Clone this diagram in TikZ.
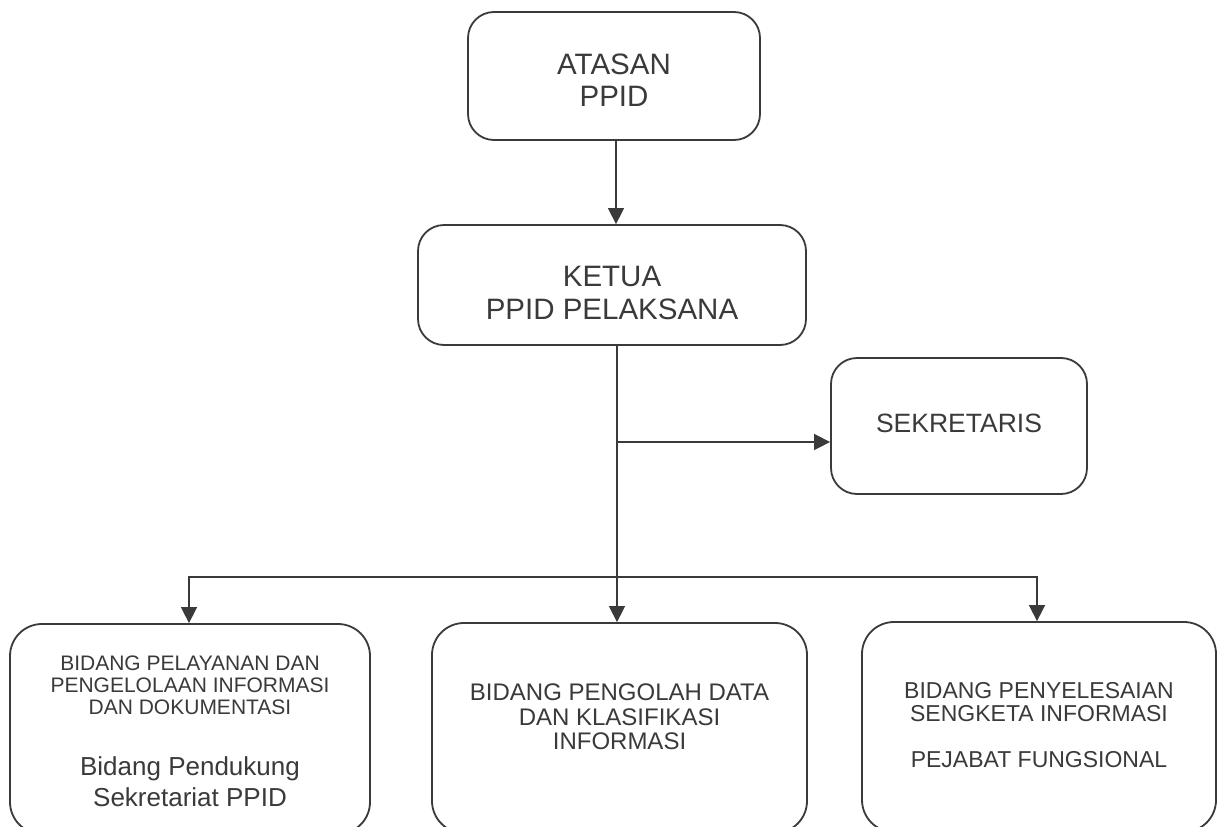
\documentclass[tikz,border=0pt]{standalone}
\usepackage{fontspec}
\setmainfont{Liberation Sans}
\usetikzlibrary{arrows.meta}
\definecolor{ink}{HTML}{3A3A3A}
\begin{document}
\begin{tikzpicture}[x=1pt,y=-1pt,
  box/.style={draw=ink, line width=1.8pt, rounded corners=26pt, inner sep=0pt},
  bbox/.style={box, rounded corners=32pt},
  lbl/.style={text=ink, align=center, inner sep=0pt},
  conn/.style={draw=ink, line width=1.5pt},
  arr/.style={conn, -{Triangle[length=16pt,width=16pt]}}]
\clip (0,0) rectangle (1218,827);
\fill[white] (0,0) rectangle (1218,827);
% boxes
\node[box, minimum width=292pt, minimum height=128pt] (atasan) at (614,76) {};
\node[box, minimum width=388pt, minimum height=120pt] (ketua) at (612,285) {};
\node[box, minimum width=256pt, minimum height=136pt] (sek) at (959,426) {};
\node[bbox, minimum width=360pt, minimum height=210pt] (left) at (190,729) {};
\node[bbox, minimum width=375pt, minimum height=210pt] (mid) at (619.5,728) {};
\node[bbox, minimum width=354pt, minimum height=210pt] (right) at (1039,727) {};
% texts
\node[lbl, font=\fontsize{29.5}{32}\selectfont] (atasant) at (614,80) {ATASAN\\PPID};
\node[lbl, font=\fontsize{29.5}{33}\selectfont] (ketuat) at (612,293) {KETUA\\PPID PELAKSANA};
\node[lbl, font=\fontsize{26.5}{30}\selectfont] (sekt) at (959,423) {SEKRETARIS};
\node[lbl, font=\fontsize{21}{22}\selectfont] (leftt1) at (190,685) {BIDANG PELAYANAN DAN\\PENGELOLAAN INFORMASI\\DAN DOKUMENTASI};
\node[lbl, font=\fontsize{26}{31}\selectfont] (leftt2) at (190,782) {Bidang Pendukung\\Sekretariat PPID};
\node[lbl, font=\fontsize{24}{24.5}\selectfont] (midt) at (619.5,717) {BIDANG PENGOLAH DATA\\DAN KLASIFIKASI\\INFORMASI};
\node[lbl, font=\fontsize{23}{23}\selectfont] (rightt1) at (1039,702.5) {BIDANG PENYELESAIAN\\SENGKETA INFORMASI};
\node[lbl, font=\fontsize{23}{23}\selectfont] (rightt2) at (1039,760) {PEJABAT FUNGSIONAL};
% connectors
\coordinate (j1) at (617,442);
\coordinate (j2) at (617,577);
\draw[arr] ([xshift=2pt]atasan.south) -- ([xshift=2pt]atasan.south |- ketua.north);
\draw[conn] (j1 |- ketua.south) -- (j2);
\draw[arr] (j1) -- (j1 -| sek.west);
\draw[arr] (j2) -- (j2 |- mid.north);
\draw[arr] (j2) -| ([xshift=-1pt]left.north);
\draw[arr] (j2) -| ([xshift=-2pt]right.north);
\end{tikzpicture}
\end{document}
